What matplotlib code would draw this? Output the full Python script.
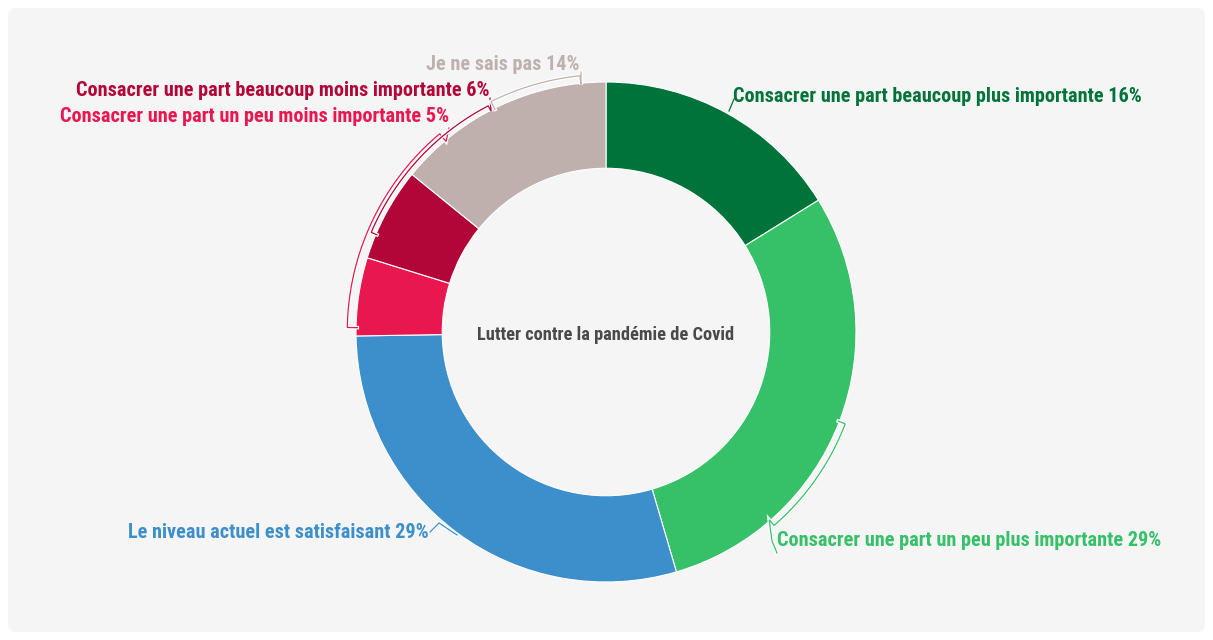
import matplotlib.pyplot as plt
import matplotlib.patheffects as pe
from matplotlib.patches import FancyBboxPatch
import numpy as np

labels = ["Consacrer une part beaucoup plus importante",
          "Consacrer une part un peu plus importante",
          "Le niveau actuel est satisfaisant",
          "Consacrer une part un peu moins importante",
          "Consacrer une part beaucoup moins importante",
          "Je ne sais pas"]
values = [16, 29, 29, 5, 6, 14]
colors = ["#00733a", "#36c067", "#3d8fcb", "#e8174f", "#b10637", "#bfb0ae"]
center_title = "Lutter contre la pandémie de Covid"

plt.rcParams['font.family'] = ['Roboto Condensed', 'DejaVu Sans']

fig = plt.figure(figsize=(12.13, 6.4), dpi=100)
fig.patch.set_facecolor("white")
ax = fig.add_axes([0, 0, 1, 1])

wedges, _ = ax.pie(values, colors=colors, startangle=90, counterclock=False,
                   radius=1.0, wedgeprops=dict(width=0.345, edgecolor="white", linewidth=0.8))
for w in wedges:
    w.set_zorder(2)

ax.set_xlim(-606 / 250, 607 / 250)
ax.set_ylim(-308 / 250, 332 / 250)
ax.set_aspect("equal")
ax.axis("off")

# panel background
ax.add_patch(FancyBboxPatch((-598 / 250, -300 / 250), 1197 / 250, 624 / 250,
                            boxstyle="round,pad=0,rounding_size=0.03",
                            fc="#f5f5f5", ec="none", zorder=0))

ax.text(0, -0.012, center_title, ha="center", va="center", fontsize=13.2,
        fontweight="bold", color="#4a4a4a", zorder=5)


def px(x, y):
    return (x - 606) / 250, (332 - y) / 250


stroke = [pe.Stroke(linewidth=2.6, foreground="white"), pe.Normal()]


def bracket(a1, a2, r, color, tail):
    t = np.radians(np.linspace(a1, a2, 60))
    xs = list(r * np.cos(t))
    ys = list(r * np.sin(t))
    # small ticks toward the ring at both ends
    xs = [0.995 * np.cos(t[0])] + xs + [0.995 * np.cos(t[-1])]
    ys = [0.995 * np.sin(t[0])] + ys + [0.995 * np.sin(t[-1])]
    for p in tail:
        xs.append(p[0])
        ys.append(p[1])
    ax.plot(xs, ys, color=color, lw=0.9, zorder=3, solid_joinstyle="miter",
            path_effects=stroke)


fs = 14.6
# dark green
x0, y0 = px(729, 111)
x1, y1 = px(734, 99)
ax.plot([x0, x1], [y0, y1], color=colors[0], lw=0.9, zorder=3)
ax.text(*px(733, 96), f"{labels[0]} {values[0]}%", color=colors[0], fontsize=fs,
        fontweight="bold", ha="left", va="center")

# light green
bracket(-21, -49, 1.025, colors[1], [px(772, 541), px(777, 553)])
ax.text(*px(777, 541), f"{labels[1]} {values[1]}%", color=colors[1], fontsize=fs,
        fontweight="bold", ha="left", va="center")

# blue
pts = [px(457, 535), px(439, 523), px(430, 532)]
ax.plot([p[0] for p in pts], [p[1] for p in pts], color=colors[2], lw=0.9,
        zorder=3, path_effects=stroke)
ax.text(*px(429, 532), f"{labels[2]} {values[2]}%", color=colors[2], fontsize=fs,
        fontweight="bold", ha="right", va="center")

# pink
bracket(179, 130, 1.035, colors[3], [px(449, 128)])
ax.text(*px(449, 116), f"{labels[3]} {values[3]}%", color=colors[3], fontsize=fs,
        fontweight="bold", ha="right", va="center")

# dark red
bracket(157, 117.5, 1.02, colors[4], [px(490, 98)])
ax.text(*px(490, 90), f"{labels[4]} {values[4]}%", color=colors[4], fontsize=fs,
        fontweight="bold", ha="right", va="center")

# gray
bracket(116.5, 95.8, 1.03, colors[5], [px(581, 72)])
ax.text(*px(580, 64), f"{labels[5]} {values[5]}%", color=colors[5], fontsize=fs,
        fontweight="bold", ha="right", va="center")

fig.savefig("out.png", dpi=100, facecolor="white")
